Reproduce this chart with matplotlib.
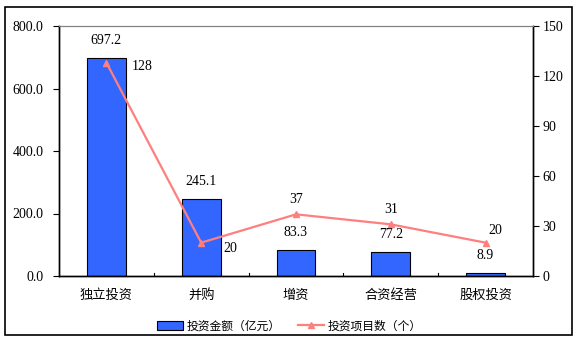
import matplotlib
matplotlib.use('Agg')
import matplotlib.pyplot as plt
from matplotlib.patches import Rectangle

categories = ['独立投资', '并购', '增资', '合资经营', '股权投资']
amounts = [697.2, 245.1, 83.3, 77.2, 8.9]
counts = [128, 20, 37, 31, 20]

plt.rcParams['font.family'] = ['Liberation Serif', 'Noto Sans CJK SC']
cjk = ['Noto Sans CJK SC', 'DejaVu Sans']

fig = plt.figure(figsize=(5.78, 3.42), dpi=100)
fig.patches.append(Rectangle((5/578, 7/342), 567/578, 328/342, transform=fig.transFigure,
                             fill=False, edgecolor='black', linewidth=1.2))
ax = fig.add_axes([59/578, 1 - 276/342, 474/578, 250/342])
ax2 = ax.twinx()

x = list(range(len(categories)))
bars = ax.bar(x, amounts, width=0.41, color='#3366FF', edgecolor='black', linewidth=0.8,
              label='投资金额（亿元）', zorder=2)
line, = ax2.plot(x, counts, color='#FF7F7F', linewidth=1.6, marker='^', markersize=5,
                 label='投资项目数（个）', zorder=3)

ax.set_xlim(-0.5, len(categories) - 0.5)
ax.set_ylim(0, 800)
ax.set_yticks([0, 200, 400, 600, 800])
ax.set_yticklabels(['%.1f' % v for v in [0, 200, 400, 600, 800]], fontsize=10)
ax2.set_ylim(0, 150)
ax2.set_yticks([0, 30, 60, 90, 120, 150])
ax2.tick_params(axis='y', labelsize=10, length=4, direction='out', pad=3)
ax.tick_params(axis='y', length=4, direction='out', pad=7)

ax.set_xticks(x)
ax.set_xticklabels(categories, fontsize=9.5, family=cjk)
ax.tick_params(axis='x', length=0, pad=9)
for b in [0.5, 1.5, 2.5, 3.5]:
    ax.plot([b, b], [0, 10], color='black', linewidth=0.8, zorder=1)

for a in (ax, ax2):
    a.spines['top'].set_color('#808080')
    a.spines['left'].set_linewidth(1.0)
    a.spines['right'].set_linewidth(1.0)
    a.spines['bottom'].set_linewidth(1.0)

for xi, v in zip(x, amounts):
    ax.annotate('%.1f' % v, (xi, v), xytext=(0, 8), textcoords='offset points',
                ha='center', va='bottom', fontsize=10)

offsets = [(18, -3, 'left', 'center'), (16, -4, 'left', 'center'), (0, 6, 'center', 'bottom'),
           (0, 6, 'center', 'bottom'), (2, 4, 'left', 'bottom')]
for xi, v, (dx, dy, ha, va) in zip(x, counts, offsets):
    ax2.annotate(str(v), (xi, v), xytext=(dx, dy), textcoords='offset points',
                 ha=ha, va=va, fontsize=10)

fig.legend(handles=[bars, line], loc='center', bbox_to_anchor=(0.5, 1 - 326/342), ncol=2,
           frameon=False, prop={'family': cjk, 'size': 8.5}, handlelength=2.2,
           columnspacing=1.5, handletextpad=0.3)

plt.savefig('out.png', dpi=100)
